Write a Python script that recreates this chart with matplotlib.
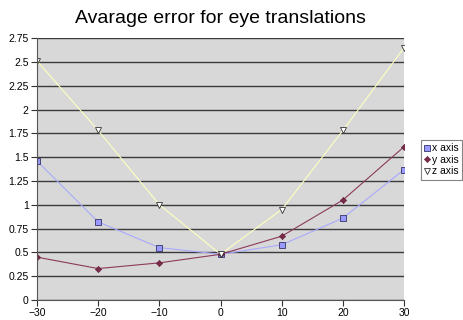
import matplotlib
matplotlib.use('Agg')
import matplotlib.pyplot as plt

# Data
angles = [-30, -20, -10, 0, 10, 20, 30]
x_err = [1.46, 0.82, 0.55, 0.48, 0.58, 0.86, 1.37]
y_err = [0.45, 0.33, 0.39, 0.48, 0.67, 1.05, 1.61]
z_err = [2.51, 1.78, 1.00, 0.48, 0.95, 1.78, 2.65]
y_ticks = [0, 0.25, 0.5, 0.75, 1, 1.25, 1.5, 1.75, 2, 2.25, 2.5, 2.75]
y_tick_labels = ["0", "0.25", "0.5", "0.75", "1", "1.25", "1.5", "1.75", "2", "2.25", "2.5", "2.75"]

plt.rcParams['font.family'] = ['Liberation Sans', 'DejaVu Sans']

fig = plt.figure(figsize=(4.64, 3.2), dpi=100)
ax = fig.add_axes([0.0797, 0.0625, 0.7913, 0.8185])
ax.set_facecolor("#d8d8d8")

ax.plot(angles, x_err, color="#a9a9ff", linewidth=0.8, marker="s", markersize=4.5,
        markerfacecolor="#9999ff", markeredgecolor="#333366", markeredgewidth=0.6, label="x axis")
ax.plot(angles, y_err, color="#8c3a5a", linewidth=0.8, marker="D", markersize=3.2,
        markerfacecolor="#7a2a4a", markeredgecolor="#5a1a33", markeredgewidth=0.4, label="y axis")
ax.plot(angles, z_err, color="#ffffc0", linewidth=0.8, marker="v", markersize=4.5,
        markerfacecolor="white", markeredgecolor="#333333", markeredgewidth=0.6, label="z axis")

ax.set_xlim(-30, 30)
ax.set_ylim(0, 2.75)
ax.set_xticks(angles)
ax.set_yticks(y_ticks)
ax.set_yticklabels(y_tick_labels)
ax.tick_params(labelsize=7.5, length=4, width=0.8, color="#333333", pad=2)

ax.yaxis.grid(True, color="#3a3a3a", linewidth=1.0)
ax.set_axisbelow(True)
for side in ("top", "right"):
    ax.spines[side].set_visible(False)
for side in ("left", "bottom"):
    ax.spines[side].set_color("#555555")
    ax.spines[side].set_linewidth(0.8)

ax.set_title("Avarage error for eye translations", fontsize=14, pad=11, x=0.5)

leg = ax.legend(loc="center left", bbox_to_anchor=(1.045, 0.535), fontsize=7.5, frameon=True,
                fancybox=False, handlelength=0.6, handletextpad=0.2, borderpad=0.3,
                labelspacing=0.15, borderaxespad=0)
leg.get_frame().set_edgecolor("#666666")
leg.get_frame().set_linewidth(0.8)
for h in leg.get_lines():
    h.set_linestyle("none")

fig.savefig("out.png", dpi=100)
